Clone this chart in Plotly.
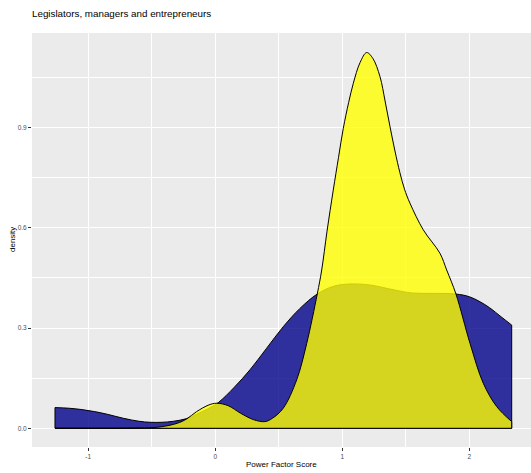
import plotly.graph_objects as go

# Power Factor Score grid and density values
navy_x = [-1.262, -1.15, -1.05, -0.95, -0.85, -0.724, -0.6, -0.514, -0.42, -0.33,
          -0.225, -0.147, -0.06, 0.024, 0.15, 0.273, 0.405, 0.535, 0.667, 0.803,
          0.93, 1.06, 1.218, 1.4, 1.55, 1.7, 1.895, 2.0, 2.084, 2.16, 2.25, 2.334]
navy_y = [0.062, 0.060, 0.056, 0.050, 0.042, 0.030, 0.021, 0.018, 0.018, 0.021,
          0.029, 0.042, 0.058, 0.077, 0.123, 0.175, 0.240, 0.304, 0.359, 0.402,
          0.425, 0.432, 0.429, 0.415, 0.405, 0.404, 0.402, 0.394, 0.379, 0.361, 0.334, 0.309]

yellow_x = [-1.262, -0.8, -0.6, -0.435, -0.3, -0.225, -0.147, -0.05, 0.01, 0.1,
            0.2, 0.3, 0.391, 0.45, 0.535, 0.641, 0.72, 0.803, 0.838, 0.88,
            0.929, 0.97, 1.008, 1.05, 1.087, 1.14, 1.192, 1.24, 1.297, 1.337,
            1.376, 1.415, 1.454, 1.49, 1.533, 1.638, 1.769, 1.822, 1.895, 2.006,
            2.11, 2.216, 2.334]
yellow_y = [0.0, 0.0, 0.001, 0.004, 0.015, 0.028, 0.050, 0.070, 0.075, 0.068,
            0.045, 0.026, 0.020, 0.030, 0.060, 0.145, 0.254, 0.402, 0.474, 0.590,
            0.713, 0.810, 0.898, 0.975, 1.033, 1.095, 1.125, 1.108, 1.053, 0.980,
            0.903, 0.830, 0.765, 0.716, 0.674, 0.594, 0.524, 0.474, 0.402, 0.254,
            0.135, 0.065, 0.020]

x_ticks = [-1, 0, 1, 2]
x_tick_labels = ["-1", "0", "1", "2"]
y_ticks = [0.0, 0.3, 0.6, 0.9]
y_tick_labels = ["0.0", "0.3", "0.6", "0.9"]

title_text = "Legislators, managers and entrepreneurs"
x_title = "Power Factor Score"
y_title = "density"

fig = go.Figure()

def add_density(xs, ys, fill):
    fig.add_trace(go.Scatter(
        x=xs, y=ys, mode="lines", fill="tozeroy", fillcolor=fill,
        line=dict(color="black", width=1, shape="spline", smoothing=1.0),
        hoverinfo="skip", showlegend=False))
    fig.add_trace(go.Scatter(
        x=[xs[0], xs[0], xs[-1], xs[-1]], y=[ys[0], 0, 0, ys[-1]],
        mode="lines", line=dict(color="black", width=1),
        hoverinfo="skip", showlegend=False))

add_density(navy_x, navy_y, "rgba(0,0,139,0.8)")
add_density(yellow_x, yellow_y, "rgba(255,255,0,0.8)")

font_family = "Liberation Sans, Arial, sans-serif"
W, H = 531, 473
L, R, T, B = 32, 0, 33, 26
pw, ph = W - L - R, H - T - B

fig.update_layout(
    width=W, height=H,
    margin=dict(l=L, r=R, t=T, b=B, autoexpand=False),
    paper_bgcolor="white", plot_bgcolor="#EBEBEB",
    font=dict(family=font_family, color="black"),
    title=dict(text=title_text, x=L / W, xanchor="left", xref="container",
               y=1 - 14 / H, yanchor="middle", yref="container",
               font=dict(size=9.8, color="black", family=font_family)),
    xaxis=dict(
        range=[-1.443, 2.486], tickmode="array", tickvals=x_ticks, ticktext=x_tick_labels,
        showgrid=True, gridcolor="white", gridwidth=1.1,
        minor=dict(dtick=0.5, tick0=0, showgrid=True, gridcolor="white", gridwidth=0.5),
        ticks="outside", ticklen=3, tickcolor="#333333", tickwidth=1,
        tickfont=dict(size=6.5, color="#4D4D4D"), zeroline=False, showline=False,
        automargin=False,
    ),
    yaxis=dict(
        range=[-0.056, 1.1835], tickmode="array", tickvals=y_ticks, ticktext=y_tick_labels,
        showgrid=True, gridcolor="white", gridwidth=1.1,
        minor=dict(dtick=0.15, tick0=0, showgrid=True, gridcolor="white", gridwidth=0.5),
        ticks="outside", ticklen=3, tickcolor="#333333", tickwidth=1,
        tickfont=dict(size=6.5, color="#4D4D4D"), zeroline=False, showline=False,
        automargin=False,
    ),
    annotations=[
        dict(text=x_title, xref="paper", yref="paper", x=0.5,
             y=-(464 - (H - B)) / ph, xanchor="center", yanchor="middle",
             showarrow=False, font=dict(size=8, color="black")),
        dict(text=y_title, xref="paper", yref="paper", x=(12 - L) / pw,
             y=0.5, xanchor="center", yanchor="middle", textangle=-90,
             showarrow=False, font=dict(size=8, color="black")),
    ],
)

fig.write_html("out.html", config={"displayModeBar": False},
               post_script="document.body.style.margin='0';document.body.style.overflow='hidden';")
